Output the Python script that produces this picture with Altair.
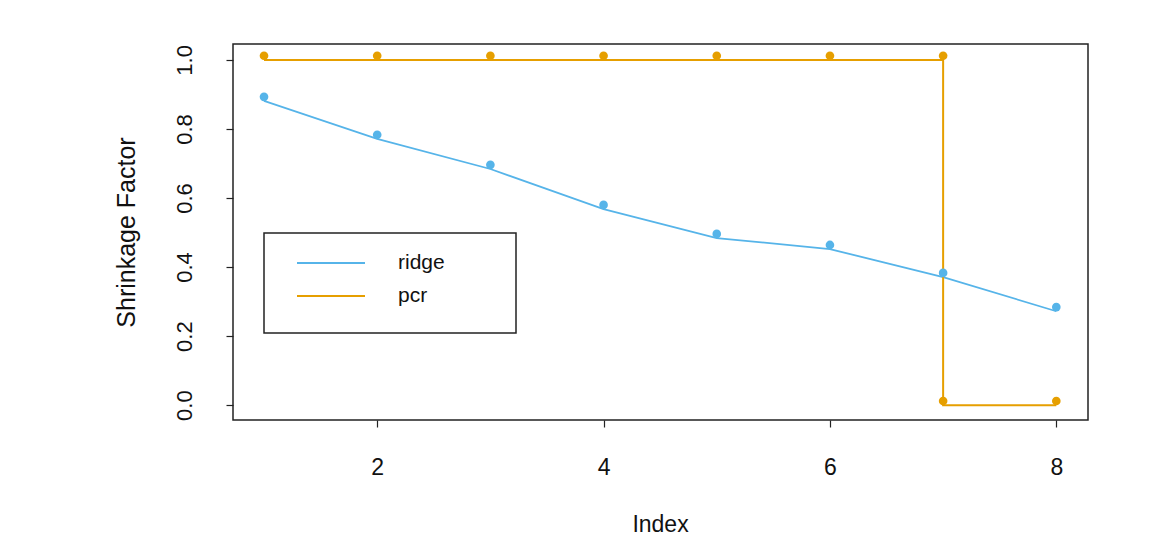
import altair as alt
import pandas as pd

index = [1, 2, 3, 4, 5, 6, 7, 8]
ridge_line = [0.881, 0.771, 0.684, 0.568, 0.484, 0.452, 0.371, 0.272]
pcr_line = [1, 1, 1, 1, 1, 1, 1, 0]
ridge_pts = [0.893, 0.783, 0.696, 0.580, 0.496, 0.464, 0.383, 0.284]
pcr_pts_x = [1, 2, 3, 4, 5, 6, 7, 7, 8]
pcr_pts_y = [1.012, 1.012, 1.012, 1.012, 1.012, 1.012, 1.012, 0.012, 0.012]

series = ["ridge", "pcr"]
colors = ["#56B4E9", "#E69F00"]
x_ticks = [2, 4, 6, 8]
y_ticks = [0.0, 0.2, 0.4, 0.6, 0.8, 1.0]

ridge_df = pd.DataFrame({"Index": index, "value": ridge_line, "series": "ridge"})
pcr_df = pd.DataFrame({"Index": index, "value": pcr_line, "series": "pcr"})
pts_df = pd.concat([
    pd.DataFrame({"Index": index, "value": ridge_pts, "series": "ridge"}),
    pd.DataFrame({"Index": pcr_pts_x, "value": pcr_pts_y, "series": "pcr"}),
])

FONT = "Liberation Sans"
PAD = "\u00a0" * 10 + "\u200b"

x = alt.X("Index:Q",
          scale=alt.Scale(domain=[0.726, 8.28], nice=False, zero=False),
          axis=alt.Axis(values=x_ticks, title="Index", grid=False, domain=False,
                        tickSize=7, tickColor="#222", tickWidth=1.2,
                        labelFontSize=23, labelPadding=29, labelColor="#111",
                        titleFontSize=23, titleFontWeight="normal", titleColor="#111",
                        titleX=427, titleY=104, titleBaseline="middle"))
y = alt.Y("value:Q",
          scale=alt.Scale(domain=[-0.043, 1.046], nice=False, zero=False),
          axis=alt.Axis(values=y_ticks, format=".1f", title="Shrinkage Factor", grid=False,
                        domain=False, tickSize=7, tickColor="#222", tickWidth=1.2,
                        labelFontSize=22, labelAngle=-90, labelAlign="center",
                        labelBaseline="bottom", labelPadding=30, labelColor="#111",
                        titleFontSize=25, titleFontWeight="normal", titleColor="#111",
                        titleAngle=-90, titleX=-107, titleY=188, titleAlign="center",
                        titleBaseline="middle"))

color = alt.Color("series:N",
                  scale=alt.Scale(domain=series, range=colors),
                  legend=alt.Legend(title=" ", titleOrient="bottom", titleFontSize=5,
                                    titlePadding=10,
                                    orient="none", legendX=31, legendY=189,
                                    symbolType="M-2,0H2", symbolSize=1156, symbolStrokeWidth=2,
                                    symbolOffset=37,
                                    labelFontSize=21, labelColor="#111", labelOffset=49,
                                    labelExpr="datum.label + '" + PAD + "'",
                                    padding=12, rowPadding=5,
                                    strokeColor="#222", fillColor="white"))

ridge_l = alt.Chart(ridge_df).mark_line(strokeWidth=1.8).encode(x=x, y=y, color=color)
pcr_l = alt.Chart(pcr_df).mark_line(strokeWidth=2, interpolate="step-before").encode(
    x=x, y=y, color=alt.Color("series:N", scale=alt.Scale(domain=series, range=colors)))
pts = alt.Chart(pts_df).mark_point(filled=True, size=75, opacity=1).encode(
    x=x, y=y, color=alt.Color("series:N", scale=alt.Scale(domain=series, range=colors), legend=None))

chart = alt.layer(ridge_l, pcr_l, pts).properties(
    width=855, height=376,
    padding={"left": 233, "top": 44, "right": 78, "bottom": 120},
    autosize=alt.AutoSizeParams(type="none"),
).configure(
    font=FONT,
    view=alt.ViewConfig(stroke="#222", strokeWidth=1.5),
    legend=alt.LegendConfig(strokeWidth=1.5),
)

chart.save("out.html", embed_options={"renderer": "svg", "actions": False})
